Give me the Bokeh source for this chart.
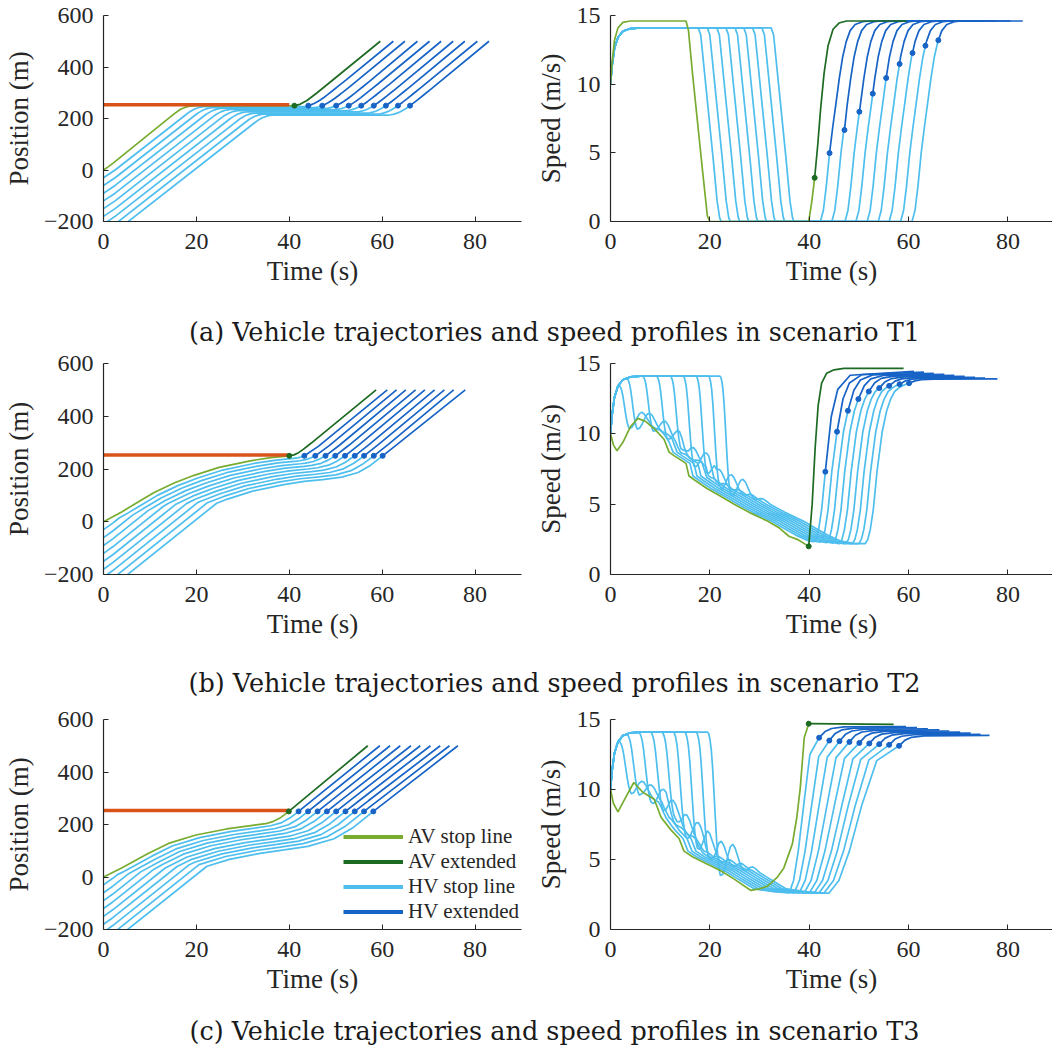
import numpy as np
from bokeh.plotting import figure
from bokeh.layouts import column, row
from bokeh.models import Range1d, FixedTicker, Legend, LegendItem
from bokeh.core.properties import value
from bokeh.embed import file_html
from bokeh.resources import INLINE

# ------------------------------------------------------------------ common
HV_Y0 = [-30, -60, -90, -120, -150, -180, -210, -240, -270]
STOP_LINE_T = [0, 40]
STOP_LINE_Y = 253
DOT_Y = 250
END_Y = 500
X_TICKS = [0, 20, 40, 60, 80]
POS_TICKS = [-200, 0, 200, 400, 600]
SPD_TICKS = [0, 5, 10, 15]
CAPTIONS = ["(a) Vehicle trajectories and speed profiles in scenario T1",
            "(b) Vehicle trajectories and speed profiles in scenario T2",
            "(c) Vehicle trajectories and speed profiles in scenario T3"]
LEGEND_LABELS = ["AV stop line", "AV extended", "HV stop line", "HV extended"]

HV_RISE_T = [0, 0.3, 0.8, 1.5, 2.5, 4.0, 6.0]
HV_RISE_V = [10, 11.3, 12.6, 13.4, 13.85, 14.05, 14.1]
HV_FREE_V = 14.1

# ------------------------------------------------------------------ T1
T1_AV_SPD_T = [0, 0.3, 0.8, 1.5, 2.5, 4.0, 15.2, 15.7, 16.5, 17.5, 18.5, 19.5, 20.0, 39.9, 40.5, 41.1]
T1_AV_SPD_V = [10, 11.5, 13.2, 14.1, 14.5, 14.6, 14.6, 13.9, 10.8, 7.3, 3.8, 0.4, 0, 0, 1.4, 3.18]
T1_AVX_SPD_T = [41.1, 41.7, 42.3, 43.0, 43.8, 44.8, 46.0, 47.5, 59.6]
T1_AVX_SPD_V = [3.18, 5.5, 8.2, 10.8, 12.8, 14.0, 14.45, 14.6, 14.6]
T1_AV_POS_T = [0, 1, 2, 4, 15.2, 16.5, 17.5, 18.5, 20, 39.9, 41.1]
T1_AV_POS_Y = [0, 12, 26, 55, 218, 235, 243, 247.5, 249.5, 249.5, 250]
T1_AVX_POS_T = [41.1, 42.3, 43.8, 46.0, 59.6]
T1_AVX_POS_Y = [250, 255, 270, 300, 500]
T1_FF_T = [0, 2.5]
T1_FF_P = [0, 30]
T1_DEC_T = [0, 0.5, 1.0, 2.0, 3.0, 3.8, 4.3, 4.6]
T1_DEC_V = [14.1, 13.6, 11.8, 8.2, 4.6, 1.5, 0.3, 0]
T1_ACC_T = [0, 0.6, 1.2, 1.85, 2.5, 3.1, 3.8, 4.5, 5.2, 6.0, 7.0, 8.5, 10.0]
T1_ACC_V = [0, 0.8, 2.6, 5.0, 6.9, 8.5, 10.4, 12.0, 13.1, 13.9, 14.35, 14.55, 14.6]
T1_DEC_START = [17.66, 19.49, 21.41, 23.24, 25.07, 26.83, 28.61, 30.48, 32.33]
T1_ACC_START = [42.25, 44.55, 47.2, 49.4, 51.67, 53.9, 56.1, 58.4, 60.7]
T1_DOT_T = [44.1, 47.1, 50.1, 52.8, 55.5, 58.2, 60.8, 63.4, 66.0]
T1_DOT_V = [4.98, 6.66, 7.99, 9.31, 10.45, 11.47, 12.27, 12.8, 13.2]
T1_END_T = [62.4, 64.9, 67.6, 70.2, 72.7, 75.3, 77.8, 80.5, 83.0]

# ------------------------------------------------------------------ T2
T2_AV_SPD_T = [0, 0.6, 1.3, 2.5, 4.0, 5.5, 7, 9, 10.8, 11.8, 13, 15.2, 15.8, 17, 19.5, 22, 24.9, 28, 31.6, 34, 36, 37.6, 39.9]
T2_AV_SPD_V = [10, 9.2, 8.8, 9.4, 10.5, 11.1, 10.9, 10.3, 9.6, 8.7, 8.4, 7.9, 7.0, 6.7, 6.1, 5.6, 5.0, 4.4, 3.8, 3.3, 2.7, 2.5, 2.0]
T2_AVX_SPD_T = [39.9, 40.6, 41.2, 41.8, 42.5, 43.5, 45, 47, 59]
T2_AVX_SPD_V = [2.0, 5.0, 9.0, 12.0, 13.6, 14.3, 14.55, 14.65, 14.65]
T2_AV_POS_T = [0, 1.3, 4, 7, 10.8, 15.2, 19.5, 24.9, 31.6, 36, 40]
T2_AV_POS_Y = [0, 12, 38, 70, 110, 147, 176, 206, 231, 243, 250]
T2_AVX_POS_T = [40, 41, 42, 43, 44, 45, 58.7]
T2_AVX_POS_Y = [250, 253.5, 262, 274.5, 288, 302, 500]
T2_FOL_SPD_T = [5.5, 7, 9, 10.8, 11.8, 13, 15.2, 15.8, 17, 19.5, 22, 24.9, 28, 31.6, 34, 36.5, 39, 42]
T2_FOL_SPD_V = [11.1, 10.9, 10.3, 9.6, 8.7, 8.4, 7.9, 7.0, 6.7, 6.1, 5.6, 5.0, 4.4, 3.8, 3.3, 2.8, 2.4, 2.2]
T2_FOL_POS_T = [0, 1.3, 4, 7, 10.8, 15.2, 19.5, 24.9, 31.6, 36, 40, 50, 60, 70]
T2_FOL_POS_Y = [0, 12, 38, 70, 110, 147, 176, 206, 231, 243, 250, 272, 294, 316]
T2_LAG = [0.8, 1.6, 2.4, 3.2, 4.0, 4.8, 5.6, 6.4, 7.2]
T2_GAP = [10, 20, 30, 40, 50, 60, 70, 80, 90]
T2_DEC_START = [1.6, 3.2, 6.4, 9.2, 12.0, 14.6, 17.2, 19.7, 22.0]
T2_DROP = 2.2
T2_WAVE = [0.8, 0.85, 0.9, 0.95, 1.0, 1.05, 1.1, 1.15, 1.2]
T2_ACC_T = [0, 0.5, 1.0, 1.6, 2.35, 3.4, 4.3, 5.1, 5.9, 6.7, 7.4, 8.2, 8.8]
T2_ACC_V = [2.2, 2.5, 3.2, 4.6, 7.31, 10.15, 11.64, 12.47, 13.01, 13.25, 13.41, 13.53, 13.6]
T2_ACC_START = [40.9, 42.2, 43.5, 44.8, 46.1, 47.4, 48.7, 50.0, 51.3]
T2_DOT_T = [43.25, 45.6, 47.8, 49.9, 52.0, 54.1, 56.1, 58.2, 60.1]
T2_DOT_V = [7.31, 10.15, 11.64, 12.47, 13.01, 13.25, 13.41, 13.53, 13.6]
T2_END_T = [61.1, 63.1, 65.1, 67.2, 69.2, 71.3, 73.4, 75.4, 77.9]
T2_FINAL_V = [14.45, 14.38, 14.3, 14.22, 14.15, 14.08, 14.02, 13.96, 13.9]

# ------------------------------------------------------------------ T3
T3_AV_SPD_T = [0, 0.6, 1.5, 3.0, 4.7, 6.5, 8.8, 10.2, 12.2, 13.8, 14.8, 16.5, 18.2, 22.2, 24.9, 28.2, 30, 31.6, 33.5, 34.9, 36.6, 37.5, 38.2, 39.0, 39.9]
T3_AV_SPD_V = [10, 9.0, 8.4, 9.4, 10.5, 9.8, 9.3, 8.0, 7.1, 6.5, 5.6, 5.2, 4.9, 4.2, 3.6, 2.8, 2.9, 3.1, 3.7, 4.4, 6.1, 8.0, 10.1, 13.7, 14.7]
T3_AVX_SPD_T = [39.9, 57.0]
T3_AVX_SPD_V = [14.7, 14.65]
T3_AV_POS_T = [0, 3.7, 9.6, 14, 19.9, 26.5, 31.7, 34.9, 36.6, 38.2, 39.9]
T3_AV_POS_Y = [0, 32, 89.5, 128, 160, 183, 196, 203, 212, 227, 250]
T3_AVX_POS_T = [39.9, 56.9]
T3_AVX_POS_Y = [250, 500]
T3_FOL_SPD_T = [4.7, 6.5, 8.8, 10.2, 12.2, 13.8, 14.8, 16.5, 18.2, 22.2, 24.9, 28.2, 32, 36]
T3_FOL_SPD_V = [10.5, 9.8, 9.3, 8.0, 7.1, 6.5, 5.6, 5.2, 4.9, 4.2, 3.6, 2.9, 2.7, 2.6]
T3_FOL_POS_T = [0, 3.7, 9.6, 14, 19.9, 26.5, 31.7, 40, 50, 60]
T3_FOL_POS_Y = [0, 32, 89.5, 128, 160, 183, 196, 218, 244, 270]
T3_LAG = [0.8, 1.6, 2.4, 3.2, 4.0, 4.8, 5.6, 6.4, 7.2]
T3_GAP = [10, 21, 31, 41, 52, 62, 72, 82, 93]
T3_DEC_START = [1.6, 3.2, 5.6, 8.0, 10.3, 12.6, 14.9, 17.2, 19.5]
T3_DROP = 2.6
T3_WAVE = [0.9, 1.0, 1.1, 1.2, 1.3, 1.45, 1.6, 1.75, 1.9]
T3_ACC_START = [36.0, 37.0, 38.0, 39.0, 40.0, 41.0, 42.0, 43.0, 44.0]
T3_MID_T = [38.9, 40.5, 42.0, 43.6, 45.1, 46.6, 47.9, 49.3, 50.6]
T3_MID_V = 8.9
T3_DOT_T = [42.0, 44.05, 46.1, 48.1, 50.1, 52.1, 54.1, 56.1, 58.1]
T3_DOT_V = [13.7, 13.5, 13.45, 13.4, 13.33, 13.29, 13.24, 13.19, 13.12]
T3_END_T = [59.5, 61.7, 63.9, 66.2, 68.2, 70.4, 72.5, 74.5, 76.3]
T3_FINAL_V = [14.5, 14.42, 14.34, 14.26, 14.18, 14.1, 14.02, 13.94, 13.86]

# shape of the drop onto the leader and of the damped wave after it
DROP_F = [0, 0.1, 0.2, 0.3, 0.4, 0.5, 0.6, 0.7, 0.8, 0.9, 1.0]
DROP_G = [0, 0.01, 0.05, 0.12, 0.24, 0.4, 0.57, 0.73, 0.86, 0.95, 1.0]
DROP_UNDER = -0.9
WAVE_T = [0.5, 1.0, 1.5, 2.0, 2.5, 3.0, 3.5, 4.0, 4.5, 5.0, 5.5, 6.0, 6.5, 7.0, 8.0]
WAVE_A = [-0.8, -0.45, 0.0, 0.4, 0.55, 0.45, 0.2, -0.05, -0.2, -0.22, -0.12, 0.0, 0.07, 0.06, 0.0]
FF_T = [0, 2.0]
FF_P = [0, 25]

# ------------------------------------------------------------------ style
AX_FONT = "Liberation Serif"
CAP_FONT = "DejaVu Serif"
C_AV = "#77AC30"
C_AVX = "#1D6A22"
C_HV = "#4DBEEE"
C_HVX = "#1763C6"
C_STOP = "#D95319"
AXC = "#262626"
LW = 1.7


def cumtrapz(t, v):
    t = np.asarray(t, float)
    v = np.asarray(v, float)
    return np.concatenate([[0.0], np.cumsum(np.diff(t) * (v[1:] + v[:-1]) / 2)])


# ------------------------------------------------------------------ T1 build
def build_t1():
    out = dict(ls=[], ds=[], lp=[], dp=[])
    accp = cumtrapz(T1_ACC_T, T1_ACC_V)
    decp = cumtrapz(T1_DEC_T, T1_DEC_V)
    for k in range(9):
        y0 = HV_Y0[k]
        d = T1_DEC_START[k]
        a = T1_ACC_START[k]
        dt, dv, te = T1_DOT_T[k], T1_DOT_V[k], T1_END_T[k]
        tau = dt - a
        pdot = float(np.interp(tau, T1_ACC_T, accp))
        inn = [i for i, x in enumerate(T1_ACC_T) if x < tau]
        outi = [i for i, x in enumerate(T1_ACC_T) if x > tau]
        st = [t for t in HV_RISE_T if t < d]
        sv = HV_RISE_V[:len(st)]
        st = st + [d + x for x in T1_DEC_T] + [a + T1_ACC_T[i] for i in inn] + [dt]
        sv = sv + list(T1_DEC_V) + [T1_ACC_V[i] for i in inn] + [dv]
        out["ls"].append((st, sv))
        et = [dt] + [a + T1_ACC_T[i] for i in outi] + [te]
        ev = [dv] + [T1_ACC_V[i] for i in outi] + [T1_ACC_V[-1]]
        out["ds"].append((et, ev))
        pd = y0 + T1_FF_P[1] + HV_FREE_V * (d - T1_FF_T[1])
        pt = [0, T1_FF_T[1], d] + [d + x for x in T1_DEC_T[1:]] + [a + T1_ACC_T[i] for i in inn] + [dt]
        py = [y0, y0 + T1_FF_P[1], pd] + [pd + x for x in decp[1:]] + [DOT_Y - pdot + accp[i] for i in inn] + [DOT_Y]
        out["lp"].append((pt, py))
        xt = [dt] + [a + T1_ACC_T[i] for i in outi] + [te]
        xy = [DOT_Y] + [DOT_Y + accp[i] - pdot for i in outi] + [END_Y]
        out["dp"].append((xt, xy))
    out.update(av_s=(T1_AV_SPD_T, T1_AV_SPD_V), avx_s=(T1_AVX_SPD_T, T1_AVX_SPD_V),
               av_p=(T1_AV_POS_T, T1_AV_POS_Y), avx_p=(T1_AVX_POS_T, T1_AVX_POS_Y),
               hv_dot_t=T1_DOT_T, hv_dot_v=T1_DOT_V,
               av_dot=(T1_AVX_SPD_T[0], T1_AVX_SPD_V[0], T1_AVX_POS_T[0]))
    return out


# ------------------------------------------------------------------ T2/T3 build
def build_follow(S):
    out = dict(ls=[], ds=[], lp=[], dp=[])
    tt = np.arange(0.3, 80, 0.02)
    for k in range(9):
        y0 = HV_Y0[k]
        L, D = S["lag"][k], S["gap"][k]
        d, s = S["dec"][k], S["wave"][k]
        a = S["acc_start"][k]
        dt, dv, te, pf = S["dot_t"][k], S["dot_v"][k], S["end_t"][k], S["final_v"][k]

        def F(t):
            return float(np.interp(t - L, S["fst"], S["fsv"]))

        st = [t for t in HV_RISE_T if t < d]
        sv = HV_RISE_V[:len(st)]
        v0 = float(np.interp(d, HV_RISE_T, HV_RISE_V))
        e = d + S["drop"]
        fe = F(e) + DROP_UNDER * s
        for f, g in zip(DROP_F, DROP_G):
            st.append(d + f * S["drop"])
            sv.append(v0 - g * (v0 - fe))
        for off, amp in zip(WAVE_T, WAVE_A):
            st.append(e + off)
            sv.append(F(e + off) + amp * s)
        last = e + WAVE_T[-1]
        for t0, v in zip(S["fst"], S["fsv"]):
            if last < t0 + L < a:
                st.append(t0 + L)
                sv.append(v)
        fa = F(a)
        st.append(a)
        sv.append(fa)
        if S["acc_t"] is not None:
            tau = dt - a
            for x, v in zip(S["acc_t"], S["acc_v"]):
                if 0 < x < tau - 1e-6:
                    st.append(a + x)
                    sv.append(v)
        else:
            c = S["mid_t"][k]
            st += [a + 0.3 * (c - a), a + 0.62 * (c - a), c, c + 0.4 * (dt - c)]
            sv += [fa + 0.9, 5.6, S["mid_v"], S["mid_v"] + 0.75 * (dv - S["mid_v"])]
        st.append(dt)
        sv.append(dv)
        out["ls"].append((st, sv))
        out["ds"].append(([dt, dt + 1.2, dt + 2.5, dt + 5, te],
                          [dv, dv + 0.55 * (pf - dv), dv + 0.82 * (pf - dv), dv + 0.96 * (pf - dv), pf]))
        ff = np.where(tt < FF_T[1], y0 + FF_P[1] / FF_T[1] * tt, y0 + FF_P[1] + HV_FREE_V * (tt - FF_T[1]))
        fo = np.interp(tt - L, S["fpt"], S["fpy"]) - D
        idx = int(np.argmax(ff >= fo))
        tm, pm = float(tt[idx]), float(fo[idx])
        pt, py = [0.0], [float(y0)]
        if tm > FF_T[1]:
            pt.append(FF_T[1])
            py.append(y0 + FF_P[1])
        pt.append(tm)
        py.append(pm)
        for t0, yv in zip(S["fpt"], S["fpy"]):
            if tm < t0 + L < a:
                pt.append(t0 + L)
                py.append(yv - D)
        pa = float(np.interp(a - L, S["fpt"], S["fpy"])) - D
        T = dt - a
        dl = DOT_Y - pa
        pt += [a, a + 0.4 * T, a + 0.7 * T, dt]
        py += [pa, pa + 0.22 * dl, pa + 0.55 * dl, DOT_Y]
        out["lp"].append((pt, py))
        out["dp"].append(([dt, dt + 3, te], [DOT_Y, DOT_Y + 3 * (0.35 * dv + 0.65 * pf), END_Y]))
    out.update(av_s=(S["av_st"], S["av_sv"]), avx_s=(S["avx_st"], S["avx_sv"]),
               av_p=(S["av_pt"], S["av_py"]), avx_p=(S["avx_pt"], S["avx_py"]),
               hv_dot_t=S["dot_t"], hv_dot_v=S["dot_v"],
               av_dot=(S["avx_st"][0], S["avx_sv"][0], S["avx_pt"][0]))
    return out


T2 = dict(lag=T2_LAG, gap=T2_GAP, dec=T2_DEC_START, wave=T2_WAVE, drop=T2_DROP, acc_start=T2_ACC_START,
          dot_t=T2_DOT_T, dot_v=T2_DOT_V, end_t=T2_END_T, final_v=T2_FINAL_V,
          fst=T2_FOL_SPD_T, fsv=T2_FOL_SPD_V, fpt=T2_FOL_POS_T, fpy=T2_FOL_POS_Y,
          acc_t=T2_ACC_T, acc_v=T2_ACC_V, mid_t=None, mid_v=None,
          av_st=T2_AV_SPD_T, av_sv=T2_AV_SPD_V, avx_st=T2_AVX_SPD_T, avx_sv=T2_AVX_SPD_V,
          av_pt=T2_AV_POS_T, av_py=T2_AV_POS_Y, avx_pt=T2_AVX_POS_T, avx_py=T2_AVX_POS_Y)
T3 = dict(lag=T3_LAG, gap=T3_GAP, dec=T3_DEC_START, wave=T3_WAVE, drop=T3_DROP, acc_start=T3_ACC_START,
          dot_t=T3_DOT_T, dot_v=T3_DOT_V, end_t=T3_END_T, final_v=T3_FINAL_V,
          fst=T3_FOL_SPD_T, fsv=T3_FOL_SPD_V, fpt=T3_FOL_POS_T, fpy=T3_FOL_POS_Y,
          acc_t=None, acc_v=None, mid_t=T3_MID_T, mid_v=T3_MID_V,
          av_st=T3_AV_SPD_T, av_sv=T3_AV_SPD_V, avx_st=T3_AVX_SPD_T, avx_sv=T3_AVX_SPD_V,
          av_pt=T3_AV_POS_T, av_py=T3_AV_POS_Y, avx_pt=T3_AVX_POS_T, avx_py=T3_AVX_POS_Y)


# ------------------------------------------------------------------ figures
def styled(width, height, bl, br, bt, bb, xr, yr, yticks, ylab, ylab_standoff):
    p = figure(width=width, height=height, x_range=Range1d(*xr), y_range=Range1d(*yr),
               output_backend="svg", toolbar_location=None,
               min_border_left=bl, min_border_right=br, min_border_top=bt, min_border_bottom=bb)
    p.xaxis.ticker = FixedTicker(ticks=X_TICKS)
    p.yaxis.ticker = FixedTicker(ticks=yticks)
    p.xaxis.axis_label = "Time (s)"
    p.yaxis.axis_label = ylab
    p.axis.axis_line_color = AXC
    p.axis.axis_line_width = 1.2
    p.axis.major_tick_line_color = AXC
    p.axis.minor_tick_line_color = None
    p.axis.major_tick_in = 5
    p.axis.major_tick_out = 0
    p.axis.major_label_text_font = AX_FONT
    p.axis.major_label_text_font_size = "24px"
    p.axis.major_label_text_color = AXC
    p.axis.axis_label_text_font = AX_FONT
    p.axis.axis_label_text_font_size = "27px"
    p.axis.axis_label_text_font_style = "normal"
    p.axis.axis_label_text_color = AXC
    p.xaxis.major_label_standoff = 12
    p.xaxis.axis_label_standoff = 4
    p.yaxis.major_label_standoff = 10
    p.yaxis.axis_label_standoff = ylab_standoff
    p.xgrid.visible = False
    p.ygrid.visible = False
    p.outline_line_color = None
    p.background_fill_color = "white"
    p.border_fill_color = "white"
    return p


def draw_pos(p, D):
    p.multi_line([x for x, _ in D["lp"]], [y for _, y in D["lp"]], line_color=C_HV, line_width=LW)
    p.line(*D["av_p"], line_color=C_AV, line_width=LW)
    p.multi_line([x for x, _ in D["dp"]], [y for _, y in D["dp"]], line_color=C_HVX, line_width=LW)
    p.line(*D["avx_p"], line_color=C_AVX, line_width=LW)
    p.line(STOP_LINE_T, [STOP_LINE_Y, STOP_LINE_Y], line_color=C_STOP, line_width=3.5)
    p.scatter(D["hv_dot_t"], [DOT_Y] * len(D["hv_dot_t"]), size=5, color=C_HVX)
    p.scatter([D["av_dot"][2]], [DOT_Y], size=5, color=C_AVX)


def draw_spd(p, D):
    p.multi_line([x for x, _ in D["ls"]], [y for _, y in D["ls"]], line_color=C_HV, line_width=LW)
    p.line(*D["av_s"], line_color=C_AV, line_width=LW)
    p.multi_line([x for x, _ in D["ds"]], [y for _, y in D["ds"]], line_color=C_HVX, line_width=LW)
    p.line(*D["avx_s"], line_color=C_AVX, line_width=LW)
    p.scatter(D["hv_dot_t"], D["hv_dot_v"], size=5, color=C_HVX)
    p.scatter([D["av_dot"][0]], [D["av_dot"][1]], size=5, color=C_AVX)


def caption(text, h, yc):
    p = figure(width=1052, height=h, x_range=Range1d(0, 1052), y_range=Range1d(0, h),
               output_backend="svg", toolbar_location=None, min_border=0,
               x_axis_type=None, y_axis_type=None)
    p.outline_line_color = None
    p.xgrid.visible = False
    p.ygrid.visible = False
    p.text(x=[554], y=[yc], text=[text], text_font=value(CAP_FONT), text_font_size="25.5px",
           text_align="center", text_baseline="middle", text_color="#1a1a1a")
    return p


DATA = [build_t1(), build_follow(T2), build_follow(T3)]
ROW_H = [310, 311, 308]
ROW_TOP = [15, 14, 14]
ROW_FRAME = [206, 211, 210]
CAP_H = [39, 45, 32]
CAP_Y = [18, 23, 15]

# legend sample segments sit outside the visible data ranges (only the legend shows them)
LEG_SAMPLE_T = [-60, -50]
LEG_SAMPLE_Y = [-900, -900]

blocks = []
for r in range(3):
    h = ROW_H[r]
    bb = h - ROW_TOP[r] - ROW_FRAME[r]
    pl = styled(532, h, 93, 11, ROW_TOP[r], bb, (0, 90), (-200, 600), POS_TICKS, "Position (m)", 7)
    pr = styled(520, h, 76, 0, ROW_TOP[r], bb, (0, 88.98), (0, 15), SPD_TICKS, "Speed (m/s)", 8)
    draw_pos(pl, DATA[r])
    draw_spd(pr, DATA[r])
    if r == 2:
        cols = [C_AV, C_AVX, C_HV, C_HVX]
        items = []
        for lab, c in zip(LEGEND_LABELS, cols):
            rr = pl.line(LEG_SAMPLE_T, LEG_SAMPLE_Y, line_color=c, line_width=4)
            items.append(LegendItem(label=lab, renderers=[rr]))
        leg = Legend(items=items, location=(240, 5), glyph_width=60, glyph_height=25, label_height=25,
                     spacing=0, padding=0, margin=0, label_standoff=5,
                     label_text_font=AX_FONT, label_text_font_size="21px", label_text_color=AXC,
                     border_line_color=None, background_fill_alpha=0.0)
        pl.add_layout(leg)
    blocks.append(row(pl, pr))
    blocks.append(caption(CAPTIONS[r], CAP_H[r], CAP_Y[r]))

layout = column(*blocks)
open("out.html", "w").write(file_html(layout, INLINE))
